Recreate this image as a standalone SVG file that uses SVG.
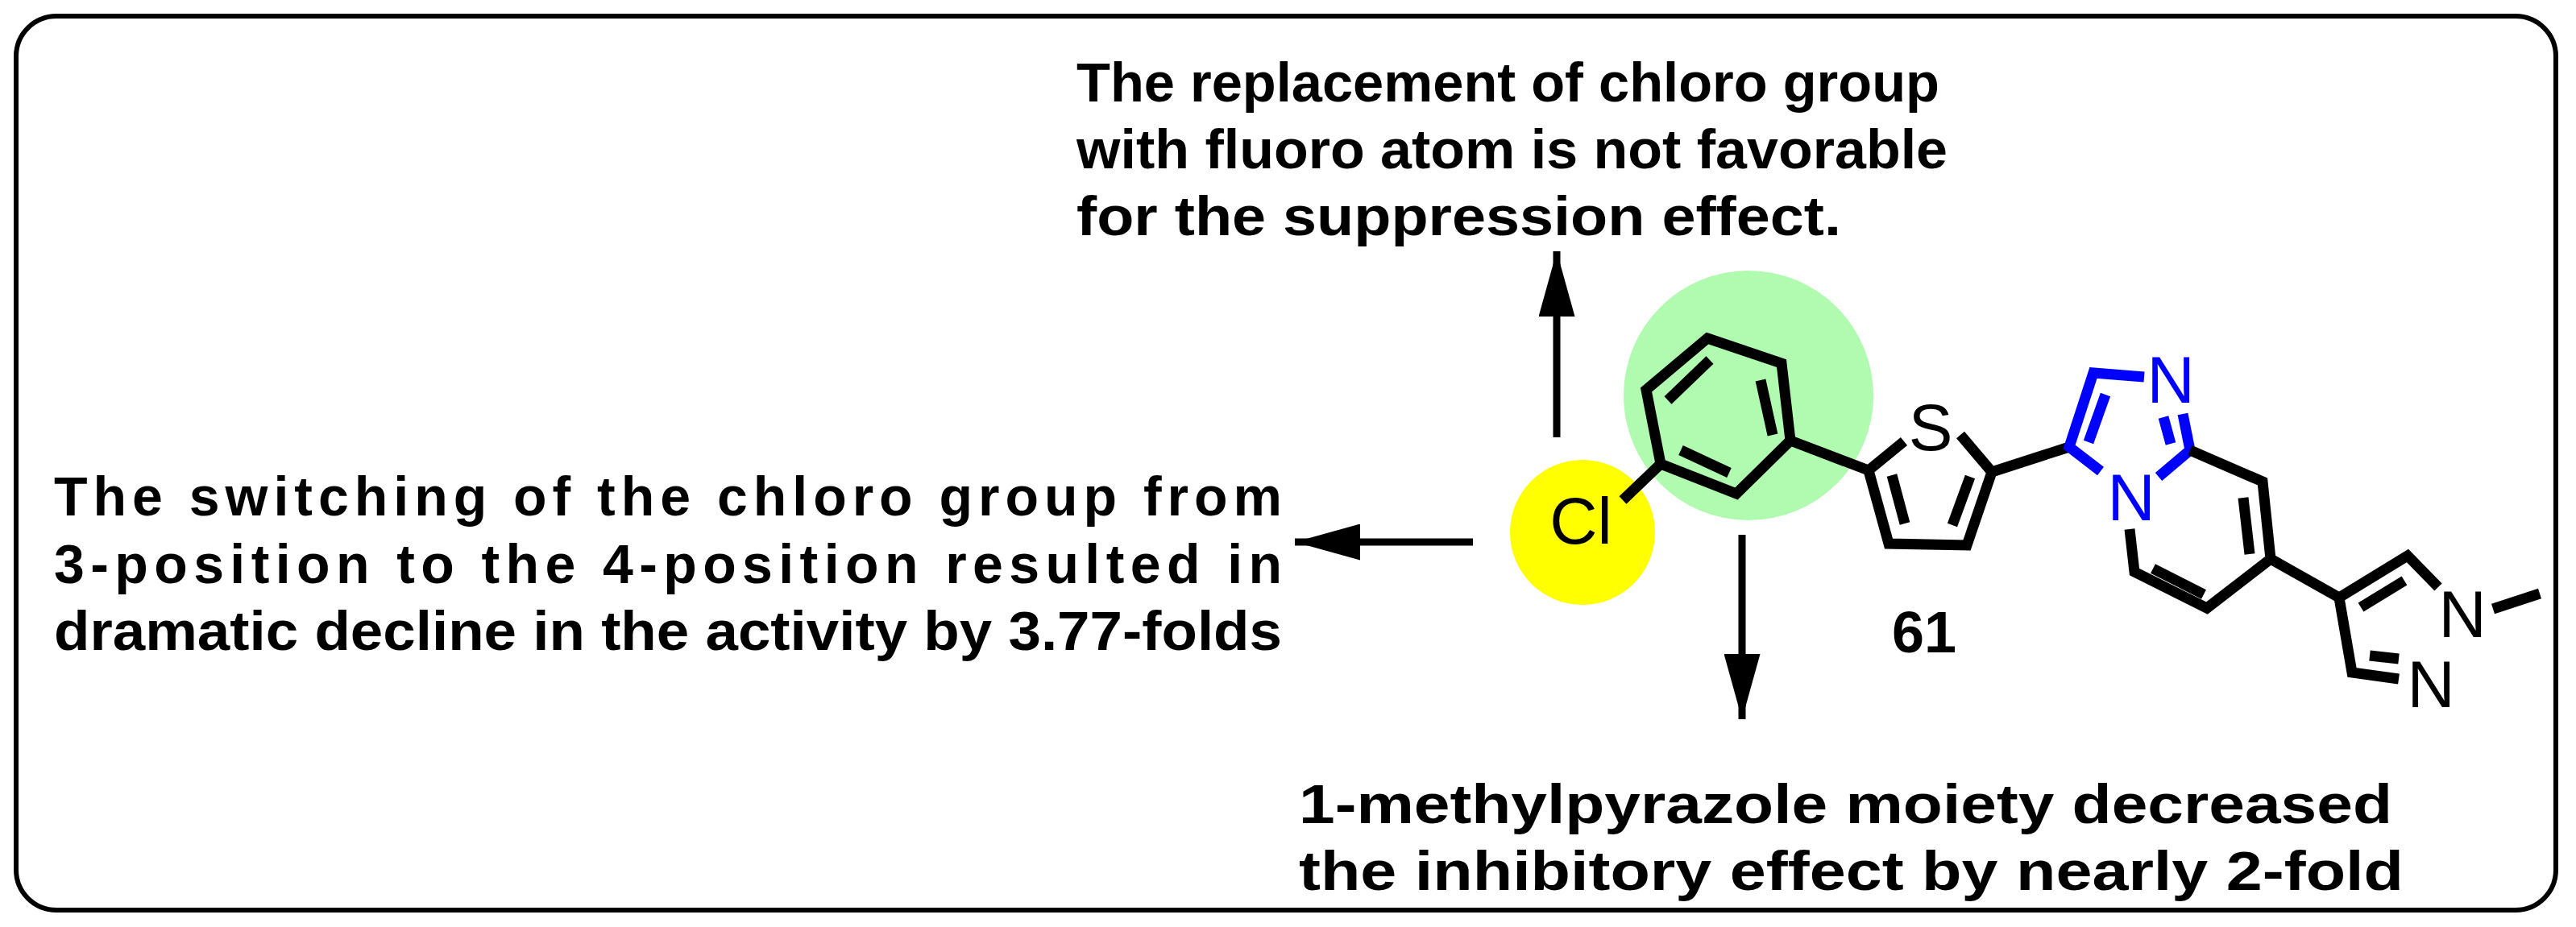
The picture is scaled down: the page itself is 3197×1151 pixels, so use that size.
<svg xmlns="http://www.w3.org/2000/svg" width="3197" height="1151" viewBox="0 0 3197 1151">
<defs>
<style>
.t{font-family:"Liberation Sans",Arial,sans-serif;font-weight:bold;font-size:68px;fill:#000}
.a{font-family:"Liberation Sans",Arial,sans-serif;font-size:82px;text-anchor:middle}
.b{stroke:#000;stroke-width:13;fill:none;stroke-linecap:butt;stroke-linejoin:miter}
.bb{stroke:#0000ff;stroke-width:13;fill:none}
.ar{stroke:#000;stroke-width:9}
</style>
<marker id="h" viewBox="0 0 10 10" refX="10" refY="5" markerWidth="9" markerHeight="5" markerUnits="strokeWidth" orient="auto" preserveAspectRatio="none"><path d="M0,0L10,5L0,10z" fill="#000"/></marker>
</defs>
<rect x="20" y="20" width="3152" height="1110" rx="50" fill="#fff" stroke="#000" stroke-width="6"/>
<g id="highlights">
<circle cx="2170" cy="491" r="155" fill="#b0fbb0"/>
<circle cx="1964" cy="661" r="90" fill="#ffff00"/>
</g>
<g id="texts">
<text class="t" x="1336" y="126" textLength="1071" lengthAdjust="spacingAndGlyphs">The replacement of chloro group</text>
<text class="t" x="1336" y="209" textLength="1081" lengthAdjust="spacingAndGlyphs">with fluoro atom is not favorable</text>
<text class="t" x="1336" y="292" textLength="949" lengthAdjust="spacingAndGlyphs">for the suppression effect.</text>
<text class="t" x="67" y="640" textLength="1524" lengthAdjust="spacing">The switching of the chloro group from</text>
<text class="t" x="67" y="724" textLength="1524" lengthAdjust="spacing">3-position to the 4-position resulted in</text>
<text class="t" x="67" y="807" textLength="1524" lengthAdjust="spacingAndGlyphs">dramatic decline in the activity by 3.77-folds</text>
<text class="t" x="1612" y="1022" textLength="1357" lengthAdjust="spacingAndGlyphs">1-methylpyrazole moiety decreased</text>
<text class="t" x="1612" y="1105" textLength="1371" lengthAdjust="spacingAndGlyphs">the inhibitory effect by nearly 2-fold</text>
</g>
<g id="connectors">
<line class="ar" x1="1932" y1="543" x2="1932" y2="312" marker-end="url(#h)"/>
<line class="ar" x1="2162" y1="664" x2="2162" y2="893" marker-end="url(#h)"/>
<line class="ar" x1="1828" y1="673" x2="1607" y2="673" marker-end="url(#h)"/>
</g>
<g id="molecule">
<path class="b" d="M2119,420L2211,451L2222,547L2155,613L2061,576L2043,484Z"/>
<path class="b" d="M2070,497L2122,447 M2185,472L2200,540 M2086,559L2146,587"/>
<path class="b" d="M2061,576L2014,621 M2222,547L2319,584"/>
<path class="b" d="M2363,548L2319,584L2344,675L2441,677L2472,586L2433,540 M2348,590L2364,650 M2445,592L2423,652"/>
<path class="b" d="M2472,586L2568,555"/>
<path class="bb" d="M2661,468L2598,463L2568,555L2607,585 M2709,514L2718,559L2679,592 M2613,490L2592,549 M2685,518L2694,551"/>
<path class="b" d="M2718,559L2808,598L2818,694L2739,755L2649,710L2643,657 M2784,618L2792,688 M2672,706L2735,738"/>
<path class="b" d="M2818,694L2903,742L2988,690L3026,729 M2903,742L2919,835L2977,843 M2930,754L2984,721 M2941,814L2977,818 M3094,756L3152,737"/>
<text class="a" x="2396" y="559">S</text>
<text class="a" x="2694" y="500" fill="#0000ff">N</text>
<text class="a" x="2645" y="646" fill="#0000ff">N</text>
<text class="a" x="3056" y="791">N</text>
<text class="a" x="3017" y="878">N</text>
<text class="a" x="1962" y="675">Cl</text>
<text class="t" x="2388" y="810" style="font-size:72px;text-anchor:middle">61</text>
</g>
</svg>
